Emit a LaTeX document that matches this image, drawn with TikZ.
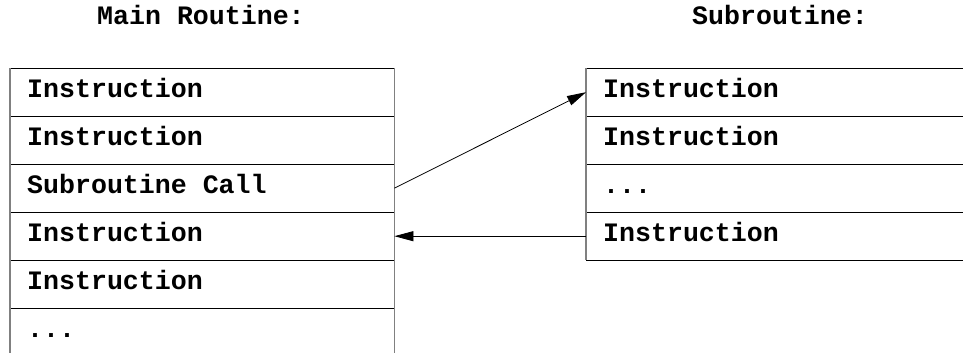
\documentclass[tikz,border=0pt]{standalone}
\usepackage{fontspec}
\setmonofont{Liberation Mono}
\usetikzlibrary{arrows.meta}

% bold monospace face for all labels
\newcommand{\codeface}{\fontsize{26.6}{30}\selectfont\ttfamily\bfseries}

\tikzset{
  codefont/.style={font=\codeface},
  % table cell; the space is kept at its full monospace width
  cell/.style={codefont, rectangle, anchor=north west, inner xsep=17pt, inner ysep=0pt,
    minimum height=48pt, text width=#1, align=left, text height=15pt, text depth=5pt,
    execute at begin node={\spaceskip=0pt\xspaceskip=0pt\relax}},
  title/.style={codefont, anchor=base west, inner sep=0pt},
  rowline/.style={black, line width=0.9pt},
  sideline/.style={gray, line width=1.4pt},
  callarrow/.style={black, line width=0.8pt, -{Triangle[length=19pt,width=10pt]}}
}

\begin{document}
\begin{tikzpicture}[x=1pt, y=-1pt]
\useasboundingbox (0,0) rectangle (963,353);

% headings
\node[title] (tmain) at (97,25) {Main Routine:};
\node[title] (tsub) at (692,25) {Subroutine:};

% main routine cells
\node[cell=350pt] (m1) at (10,68)  {Instruction};
\node[cell=350pt] (m2) at (10,116) {Instruction};
\node[cell=350pt] (m3) at (10,164) {Subroutine Call};
\node[cell=350pt] (m4) at (10,212) {Instruction};
\node[cell=350pt] (m5) at (10,260) {Instruction};
\node[cell=350pt] (m6) at (10,308) {...};

% subroutine cells
\node[cell=343pt] (s1) at (586,68)  {Instruction};
\node[cell=343pt] (s2) at (586,116) {Instruction};
\node[cell=343pt] (s3) at (586,164) {...};
\node[cell=343pt] (s4) at (586,212) {Instruction};

% row separators
\foreach \c in {m1,m2,m3,m4,m5,m6,s1,s2,s3,s4}
  \draw[rowline] (\c.north west) -- (\c.north east);
\draw[rowline] (s4.south west) -- (s4.south east);

% table sides
\draw[sideline] (m1.north west) -- (m6.south west);
\draw[sideline] (m1.north east) -- (m6.south east);
\draw[sideline] (s1.north west) -- (s4.south west);

% call and return
\draw[callarrow] (m3.east) -- (s1.west);
\draw[callarrow] (s4.west) -- (m4.east);
\end{tikzpicture}
\end{document}
